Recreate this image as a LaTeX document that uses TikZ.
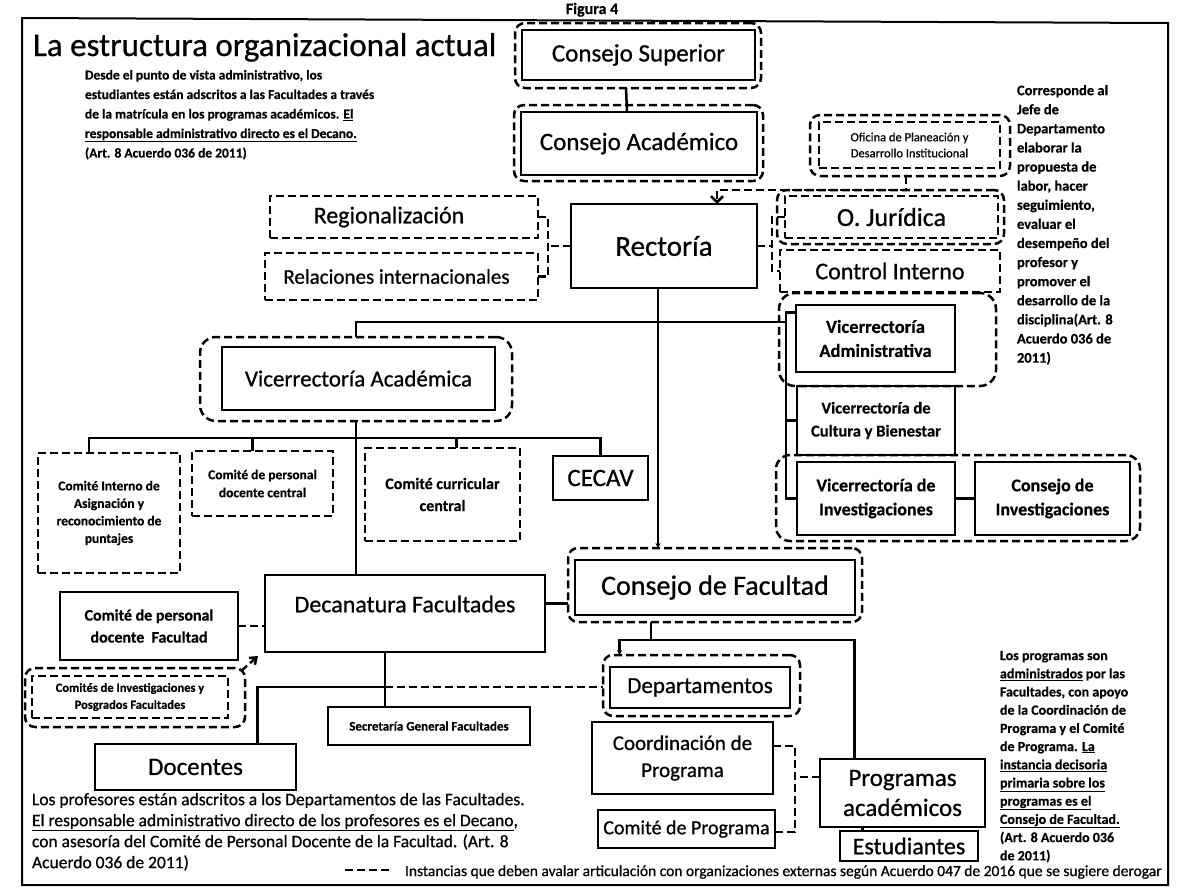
\documentclass[tikz,border=0pt]{standalone}
\usepackage{fontspec}
\setmainfont{Carlito}[UprightFeatures={FakeBold=0.7},BoldFeatures={FakeBold=0.4}]
\usetikzlibrary{arrows.meta,calc}
\newcommand{\setfs}[1]{\fontsize{#1}{#1}\selectfont}
\newcommand{\setfsb}[2]{\fontsize{#1}{#2}\selectfont\bfseries}
\newcommand{\setfsr}[2]{\fontsize{#1}{#2}\selectfont}
\begin{document}
\begin{tikzpicture}[x=1pt,y=-1pt,
  every node/.style={inner sep=0pt, outer sep=0pt},
  dsh/.style={dash pattern=on 8pt off 4pt},
  sbox/.style={draw, line width=2.5pt, align=center},
  dbox/.style={draw, line width=2.5pt, dsh, align=center},
  rbox/.style={draw, line width=2.5pt, dsh, rounded corners=10pt},
  conn/.style={line width=2.5pt},
  dconn/.style={line width=2.5pt, dsh},
  para/.style={anchor=north west, align=left},
]
\useasboundingbox (0,0) rectangle (1179,892);
\fill[white] (0,0) rectangle (1179,892);
\clip (0,0) rectangle (1179,892);

% frame
\coordinate (f1) at (22,18);
\coordinate (f2) at (1168,23);
\coordinate (f3) at (1168,885);
\coordinate (f4) at (22,885);
\draw[line width=2pt] (f1) -- (f2) -- (f3) -- (f4) -- cycle;

\node[font=\setfsb{16}{16}, anchor=base] (fig) at (592,14) {Figura 4};
\node[font=\setfs{33}, anchor=base west] (title) at (33,56) {La estructura organizacional actual};

\node[para, font=\setfsb{13.5}{19.5}] (ptl) at (85,70) {Desde el punto de vista administrativo, los\\
estudiantes están adscritos a las Facultades a través\\
de la matrícula en los programas académicos. \underline{El}\\
\underline{responsable administrativo directo es el Decano.}\\
(Art. 8 Acuerdo 036 de 2011)};

\node[para, font=\setfsb{14.5}{19.1}] (ptr) at (1017,85) {Corresponde al\\ Jefe de\\ Departamento\\ elaborar la\\ propuesta de\\ labor, hacer\\ seguimiento,\\ evaluar el\\ desempeño del\\ profesor y\\ promover el\\ desarrollo de la\\ disciplina(Art. 8\\ Acuerdo 036 de\\ 2011)};

\node[para, font=\setfsb{14}{18.2}] (pbr) at (1000,651) {Los programas son\\
\underline{administrados} por las\\
Facultades, con apoyo\\
de la Coordinación de\\
Programa y el Comité\\
de Programa. \underline{La}\\
\underline{instancia decisoria}\\
\underline{primaria sobre los}\\
\underline{programas es el}\\
\underline{Consejo de Facultad.}\\
(Art. 8 Acuerdo 036\\
de 2011)};

\node[para, font=\setfsr{17.5}{21}] (pbl) at (32,793) {Los profesores están adscritos a los Departamentos de las Facultades.\\
\underline{El responsable administrativo directo de los profesores es el Decano},\\
con asesoría del Comité de Personal Docente de la Facultad. (Art. 8\\
Acuerdo 036 de 2011)};

\coordinate (lg1) at (345,870);
\coordinate (lg2) at (392,870);
\draw[dconn] (lg1) -- (lg2);
\node[anchor=west, font=\setfs{15.5}] (lgt) at (405,872) {Instancias que deben avalar articulación con organizaciones externas según Acuerdo 047 de 2016 que se sugiere derogar};

% top
\node[rbox, minimum width=246, minimum height=65] (csout) at (638,55.5) {};
\node[sbox, minimum width=233, minimum height=50, font=\setfs{25}] (cs) at (638.5,55) {Consejo Superior};
\node[rbox, minimum width=249, minimum height=76] (caout) at (638.5,143) {};
\node[sbox, minimum width=236, minimum height=63, font=\setfs{25}] (ca) at (639,143.5) {Consejo Académico};
\draw[conn] ([xshift=-12pt]csout.south) -- ([xshift=-12pt]ca.north);

\node[rbox, minimum width=200, minimum height=61] (ofout) at (910,145.5) {};
\node[dbox, minimum width=181, minimum height=46, font=\setfsr{12.5}{16}] (of) at (909.5,145) {Oficina de Planeación y\\ Desarrollo Institucional};

\node[sbox, minimum width=186, minimum height=84, font=\setfs{29}] (rect) at (664,246) {Rectoría};
\node[dbox, minimum width=268, minimum height=42, font=\setfs{24}] (reg) at (404,217) {Regionalización\hspace*{30pt}};
\node[dbox, minimum width=273, minimum height=47, font=\setfs{21}] (rel) at (401.5,276.5) {Relaciones internacionales\hspace*{10pt}};
\node[rbox, minimum width=227, minimum height=54] (ojout) at (890.5,217) {};
\node[dbox, minimum width=213, minimum height=42, font=\setfs{26}] (oj) at (891.5,217) {O. Jurídica};
\node[dbox, minimum width=220, minimum height=42, font=\setfs{24}] (ci) at (890,271) {Control Interno};

\draw[dconn, -{Straight Barb[length=6pt,width=12pt]}] ([xshift=-4pt]ofout.south) -- ++(0,14) -| ([xshift=53pt]rect.north);
\draw[dconn] (reg.east) -- ++(10,0) coordinate (lb) |- (rel.east);
\draw[dconn] (rect.west) -- (rect.west -| lb);
\coordinate (rb) at (772,246);
\draw[dconn] (oj.west) -| (rb) |- (ci.west);
\draw[dconn] (rect.east) -- (rb);

% vicerrectorias right
\node[rbox, minimum width=217, minimum height=93, rounded corners=16pt] (vaout) at (887.5,339.5) {};
\node[sbox, minimum width=159, minimum height=67, font=\setfsb{18.5}{24}] (va) at (875.5,338.5) {Vicerrectoría\\ Administrativa};
\node[sbox, minimum width=158, minimum height=69, font=\setfsb{16.5}{23}] (vc) at (876,420.5) {Vicerrectoría de\\ Cultura y Bienestar};
\node[rbox, minimum width=364, minimum height=86, rounded corners=14pt] (viout) at (958,498) {};
\node[sbox, minimum width=158, minimum height=73, font=\setfsb{18}{24}] (vi) at (876,498.5) {Vicerrectoría de\\ Investigaciones};
\node[sbox, minimum width=155, minimum height=73, font=\setfsb{18}{24}] (cinv) at (1052.5,498.5) {Consejo de\\ Investigaciones};
\draw[conn] (vi.east) -- (cinv.west);
\draw[conn] ([yshift=26pt]va.west) -- ++(-10,0) coordinate (btop) -- (btop |- vi.west) -- (vi.west);
\draw[conn] (vc.west) -- (vc.west -| btop);

% vicerrectoria academica
\node[rbox, minimum width=312, minimum height=84, rounded corners=16pt] (vacout) at (356,379) {};
\node[sbox, minimum width=273, minimum height=63, font=\setfs{23}] (vac) at (358.5,378.5) {Vicerrectoría Académica};
\coordinate (hj) at (786,322);
\draw[conn] (vacout.north) |- (hj);

\node[dbox, minimum width=142, minimum height=120, font=\setfsb{13.5}{17.5}] (cia) at (109,513) {Comité Interno de\\ Asignación y\\ reconocimiento de\\ puntajes};
\node[dbox, minimum width=141, minimum height=65, font=\setfsb{13.5}{18}] (cpdc) at (262.5,483.5) {Comité de personal\\ docente central};
\node[dbox, minimum width=155, minimum height=93, font=\setfsb{16}{22}] (ccc) at (442.5,494.5) {Comité curricular\\ central};
\node[sbox, minimum width=95, minimum height=44, font=\setfs{25}] (cecav) at (600.5,478) {CECAV};
\coordinate (vh) at (356,438);
\draw[conn] ([xshift=-20pt]cia.north) |- (vh) -| (cecav.north);
\draw[conn] ([xshift=-10pt]cpdc.north) -- ([xshift=-10pt]cpdc.north |- vh);
\draw[conn] ([xshift=14pt]ccc.north) -- ([xshift=14pt]ccc.north |- vh);

% facultad level
\node[sbox, minimum width=280, minimum height=77] (dec) at (405,613.5) {};
\node[font=\setfs{24}] (dect) at (405,604) {Decanatura Facultades};
\draw[conn] (vacout.south) -- (vacout.south |- dec.north);

\node[rbox, minimum width=294, minimum height=74] (cfout) at (715,585) {};
\node[sbox, minimum width=280, minimum height=55, font=\setfs{28}] (cf) at (715,587.5) {Consejo de Facultad};
\draw[conn, -{Stealth[length=5pt,width=5pt]}] ([xshift=-6pt]rect.south) -- ([xshift=-6pt]rect.south |- cfout.north);
\draw[conn] ([yshift=10pt]dec.east) -- ([yshift=10pt]dec.east -| cfout.west);

\node[sbox, minimum width=178, minimum height=68, font=\setfsb{16}{22}] (cpdf) at (149,626) {Comité de personal\\ docente\ \ Facultad};
\draw[dconn] (cpdf.east) -- (cpdf.east -| dec.west);

\node[rbox, minimum width=220, minimum height=59] (cipout) at (135,697.5) {};
\node[dbox, minimum width=196, minimum height=42, font=\setfsb{12.5}{17}] (cip) at (130,697) {Comités de Investigaciones y\\ Posgrados Facultades};
\draw[dconn, -{Straight Barb[length=6pt,width=9pt]}] ([shift={(-4,3)}]cipout.north east) -- ([shift={(-7,4)}]dec.south west);

\node[sbox, minimum width=202, minimum height=38, font=\setfsb{13}{15}] (sec) at (429,726) {Secretaría General Facultades};
\node[sbox, minimum width=201, minimum height=46, font=\setfs{25}] (doc) at (195.5,767) {Docentes};

\node[rbox, minimum width=197, minimum height=61] (depout) at (701.5,685.5) {};
\node[sbox, minimum width=180, minimum height=41, font=\setfs{23}] (dep) at (700,687.5) {Departamentos};

\coordinate (dj) at (385,687);
\draw[conn] ([xshift=-20pt]dec.south) -- (dj) -- (dj |- sec.north);
\draw[conn] (dj) -| ([xshift=62pt]doc.north);
\draw[dconn] (dj) -- (dj -| depout.west);

\node[sbox, minimum width=181, minimum height=72, font=\setfsr{21}{27}] (coord) at (682.5,758) {Coordinación de\\ Programa};
\node[sbox, minimum width=177, minimum height=38, font=\setfs{20}] (cprog) at (686.5,829) {Comité de Programa};
\node[sbox, minimum width=165, minimum height=68, font=\setfsr{25}{30}] (prog) at (902.5,793) {Programas\\ académicos};
\node[sbox, minimum width=138, minimum height=30, font=\setfs{24}] (est) at (909,846) {Estudiantes};

\coordinate (cj) at (651,640);
\draw[conn] ([xshift=-64pt]cfout.south) -- (cj);
\draw[conn, -{Stealth[length=5pt,width=5pt]}] (cj) -| ([xshift=-82pt]depout.north);
\draw[conn] (cj) -| ([xshift=-48pt]prog.north);
\draw[conn] ([xshift=-40pt]prog.south) -- ([xshift=-40pt]prog.south |- est.north);

\draw[dconn] ([yshift=12pt]coord.east) -- ++(22,0) coordinate (pb) |- ([yshift=-3pt]cprog.east);
\draw[dconn] ([yshift=16pt]prog.west) -- ([yshift=16pt]prog.west -| pb);
\end{tikzpicture}
\end{document}
